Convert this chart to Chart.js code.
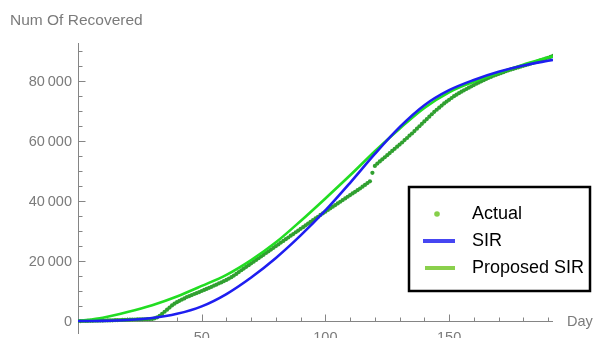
<!DOCTYPE html>
<html>
<head>
<meta charset="utf-8">
<style>
  html, body { margin: 0; padding: 0; background: #ffffff; overflow: hidden; }
  #wrap { position: relative; width: 595px; height: 338px; }
</style>
<script src="https://cdn.jsdelivr.net/npm/chart.js@4.4.1/dist/chart.umd.min.js"></script>
</head>
<body>
<div id="wrap"><canvas id="c" width="595" height="338"></canvas></div>
<script>
// Daily recovered counts (index = day)
const actualRecovered = [
  0, 10, 20, 30, 50, 70, 90, 110, 130, 150,
  170, 190, 210, 230, 260, 290, 320, 350, 380, 410,
  440, 470, 500, 520, 540, 560, 580, 600, 620, 650,
  700, 900, 1250, 1750, 2400, 3100, 3800, 4500, 5200, 5800,
  6300, 6750, 7150, 7550, 8000, 8300, 8650, 9000, 9300, 9650,
  10000, 10350, 10700, 11050, 11400, 11800, 12150, 12550, 12900, 13300,
  13700, 14150, 14600, 15150, 15700, 16300, 16900, 17450, 18050, 18600,
  19200, 19750, 20350, 20900, 21500, 22050, 22650, 23200, 23800, 24350,
  24950, 25500, 26100, 26650, 27250, 27800, 28400, 28950, 29550, 30100,
  30700, 31250, 31850, 32400, 33000, 33550, 34150, 34700, 35300, 35850,
  36400, 36950, 37500, 38050, 38600, 39150, 39700, 40250, 40800, 41350,
  41900, 42450, 43000, 43550, 44100, 44700, 45300, 45900, 46500, 49300,
  51600, 52400, 53100, 53800, 54500, 55200, 55900, 56600, 57300, 58000,
  58700, 59400, 60200, 60900, 61700, 62400, 63200, 64000, 64800, 65600,
  66400, 67200, 68000, 68800, 69600, 70300, 71000, 71700, 72400, 73000,
  73600, 74200, 74800, 75300, 75800, 76300, 76750, 77200, 77650, 78100,
  78500, 78950, 79350, 79750, 80150, 80550, 80900, 81250, 81600, 81900,
  82200, 82500, 82800, 83100, 83400, 83650, 83900, 84150, 84400, 84650,
  84900, 85150, 85400, 85650, 85900, 86150, 86400, 86700, 87000, 87300,
  87600, 87900, 88200
];

// Model curves sampled on these days
const modelDays = [0, 10, 20, 30, 40, 50, 60, 70, 80, 90, 100, 110, 120, 130, 140, 150, 160, 170, 180, 190, 192];
const sirRecovered = [0, 80, 350, 1000, 2400, 4900, 9000, 14500, 21000, 28500, 36800, 46000, 55600, 64500, 71800, 76800, 80200, 82900, 85000, 86600, 86900];
const proposedRecovered = [0, 1100, 3000, 5300, 8200, 11700, 15400, 20300, 26200, 33300, 40800, 48500, 56500, 64000, 70900, 76100, 79600, 82600, 85300, 87700, 88000];

// Axis ticks and labels
const yMajorTicks = [0, 20000, 40000, 60000, 80000];
const xMajorTicks = [50, 100, 150];
const yAxisTitle = 'Num Of Recovered';
const xAxisTitle = 'Day';
const seriesNames = ['Actual', 'SIR', 'Proposed SIR'];

const DAY_MAX = 192;
const LABEL_GREY = '#7b7b7b';
const AXIS_GREY = '#858585';
const FONT = '"Liberation Sans", Arial, sans-serif';

const actualPoints = actualRecovered.map((v, d) => ({ x: d, y: v }));
const sirPoints = modelDays.map((d, i) => ({ x: d, y: sirRecovered[i] }));
const proposedPoints = modelDays.map((d, i) => ({ x: d, y: proposedRecovered[i] }));

function fmt(n) {
  const s = String(n);
  return s.length > 3 ? s.slice(0, s.length - 3) + '\u2009' + s.slice(-3) : s;
}

const axesPlugin = {
  id: 'mathAxes',
  beforeDatasetsDraw(chart) {
    const { ctx, chartArea } = chart;
    const xs = chart.scales.x, ys = chart.scales.y;
    const x0 = Math.round(xs.getPixelForValue(0)) + 0.5;
    const y0 = Math.round(ys.getPixelForValue(0)) + 0.5;
    const xEnd = xs.getPixelForValue(DAY_MAX);
    ctx.save();
    ctx.strokeStyle = AXIS_GREY;
    ctx.lineWidth = 1;
    ctx.beginPath();
    ctx.moveTo(x0, chartArea.top);
    ctx.lineTo(x0, chartArea.bottom);
    ctx.moveTo(x0, y0);
    ctx.lineTo(xEnd, y0);
    // y ticks every 5000, pointing into the plot
    for (let v = 5000; v <= 90000; v += 5000) {
      const py = Math.round(ys.getPixelForValue(v)) + 0.5;
      const len = v % 20000 === 0 ? 7 : 4;
      ctx.moveTo(x0, py);
      ctx.lineTo(x0 + len, py);
    }
    // x ticks every 10 days, pointing up
    for (let d = 10; d <= 190; d += 10) {
      const px = Math.round(xs.getPixelForValue(d)) + 0.5;
      const len = d % 50 === 0 ? 7 : 4;
      ctx.moveTo(px, y0);
      ctx.lineTo(px, y0 - len);
    }
    ctx.stroke();
    ctx.restore();
  },
  afterDraw(chart) {
    const { ctx } = chart;
    const xs = chart.scales.x, ys = chart.scales.y;
    const x0 = xs.getPixelForValue(0);
    const y0 = ys.getPixelForValue(0);
    ctx.save();
    ctx.fillStyle = LABEL_GREY;
    ctx.font = '14.5px ' + FONT;
    ctx.textAlign = 'right';
    ctx.textBaseline = 'middle';
    yMajorTicks.forEach(v => ctx.fillText(fmt(v), x0 - 6, ys.getPixelForValue(v) + 1));
    ctx.textAlign = 'center';
    ctx.textBaseline = 'top';
    xMajorTicks.forEach(d => ctx.fillText(fmt(d), xs.getPixelForValue(d), y0 + 10));
    ctx.textAlign = 'left';
    ctx.textBaseline = 'middle';
    ctx.fillText(xAxisTitle, 567, y0 + 1);
    ctx.font = '15.5px ' + FONT;
    ctx.fillText(yAxisTitle, 10, 21);

    // legend box
    const bx = 409, by = 187, bw = 181, bh = 104;
    ctx.lineWidth = 2.5;
    ctx.strokeStyle = '#000000';
    ctx.fillStyle = '#ffffff';
    ctx.fillRect(bx, by, bw, bh);
    ctx.strokeRect(bx, by, bw, bh);
    ctx.font = '18px ' + FONT;
    const rowY = [214, 241, 268];
    ctx.fillStyle = '#86cf4a';
    ctx.beginPath();
    ctx.arc(437, rowY[0], 2.8, 0, Math.PI * 2);
    ctx.fill();
    ctx.lineWidth = 4;
    ctx.strokeStyle = '#4646f2';
    ctx.beginPath(); ctx.moveTo(423, rowY[1]); ctx.lineTo(455, rowY[1]); ctx.stroke();
    ctx.strokeStyle = '#8ad04c';
    ctx.beginPath(); ctx.moveTo(425, rowY[2]); ctx.lineTo(455, rowY[2]); ctx.stroke();
    ctx.fillStyle = '#000000';
    seriesNames.forEach((n, i) => ctx.fillText(n, 472, rowY[i]));
    ctx.restore();
  }
};

new Chart(document.getElementById('c'), {
  type: 'scatter',
  data: {
    datasets: [
      {
        label: seriesNames[0],
        data: actualPoints,
        showLine: false,
        pointRadius: 2.1,
        pointBackgroundColor: '#30a030',
        pointBorderWidth: 0,
        order: 2
      },
      {
        label: seriesNames[2],
        data: proposedPoints,
        showLine: true,
        borderColor: '#22dd22',
        borderWidth: 2.6,
        pointRadius: 0,
        cubicInterpolationMode: 'monotone',
        order: 1
      },
      {
        label: seriesNames[1],
        data: sirPoints,
        showLine: true,
        borderColor: '#1e1ef0',
        borderWidth: 2.6,
        pointRadius: 0,
        cubicInterpolationMode: 'monotone',
        order: 0
      }
    ]
  },
  options: {
    responsive: false,
    animation: false,
    layout: { padding: { left: 78, right: 42, top: 43, bottom: 0 } },
    scales: {
      x: { type: 'linear', min: 0, max: DAY_MAX, display: false },
      y: { type: 'linear', min: -4300, max: 92500, display: false }
    },
    plugins: {
      legend: { display: false },
      tooltip: { enabled: false }
    }
  },
  plugins: [axesPlugin]
});
</script>
</body>
</html>
